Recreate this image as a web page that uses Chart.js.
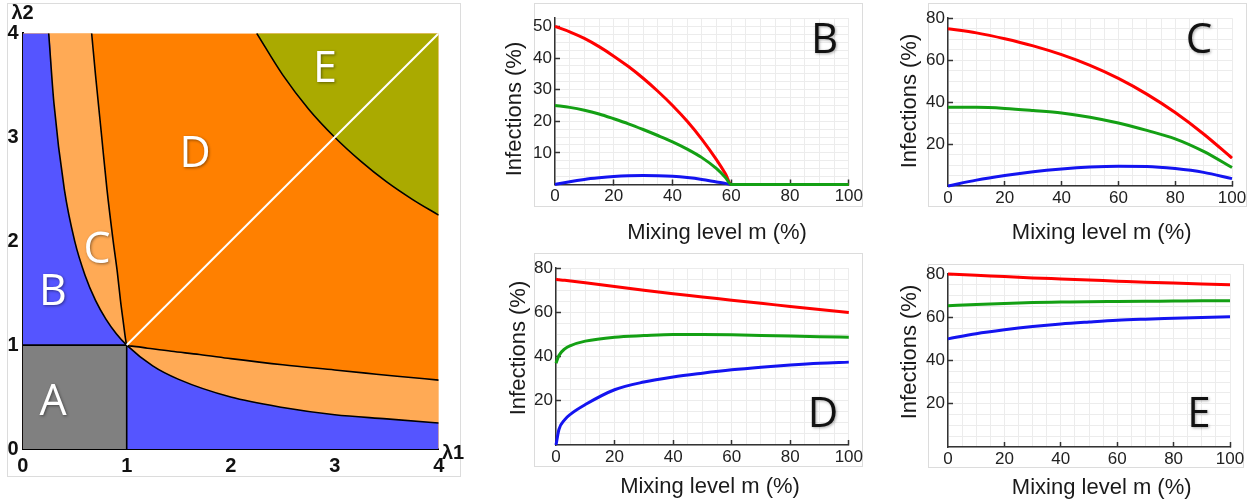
<!DOCTYPE html>
<html>
<head>
<meta charset="utf-8">
<script src="https://cdn.jsdelivr.net/npm/chart.js@4.4.0/dist/chart.umd.min.js"></script>
<style>
  body { margin: 0; background: #fff; width: 1256px; height: 504px; position: relative; overflow: hidden; }
  canvas { position: absolute; }
  .caixa { position: absolute; border: 1px solid #dcdcdc; box-sizing: border-box; }
</style>
</head>
<body>
<div class="caixa" style="left:7px;top:3px;width:454px;height:474px"></div>
<div class="caixa" style="left:534px;top:3px;width:329px;height:204px"></div>
<div class="caixa" style="left:928px;top:3px;width:319px;height:204px"></div>
<div class="caixa" style="left:534px;top:253px;width:329px;height:214px"></div>
<div class="caixa" style="left:928px;top:264px;width:316px;height:204px"></div>

<canvas id="fases" width="470" height="477" style="left:0;top:0"></canvas>
<canvas id="painelB" width="380" height="250" style="left:490px;top:0"></canvas>
<canvas id="painelC" width="376" height="250" style="left:880px;top:0"></canvas>
<canvas id="painelD" width="380" height="254" style="left:490px;top:250px"></canvas>
<canvas id="painelE" width="376" height="254" style="left:880px;top:250px"></canvas>

<script>
// ---- diagrama de fases (lambda1 x lambda2) ----
const eixoFases = [0, 1, 2, 3, 4];
const hipX = [0.25, 0.3, 0.4, 0.5, 0.6, 0.7, 0.8, 0.9, 1, 1.25, 1.5, 2, 2.5, 3, 3.5, 4];
const hipY = [4, 3.33, 2.5, 2, 1.67, 1.43, 1.25, 1.11, 1, 0.8, 0.67, 0.5, 0.4, 0.33, 0.29, 0.25];
const cdX = [0.663, 0.7, 0.73, 0.76, 0.81, 0.87, 0.91, 0.94, 0.97, 0.99, 1, 1.05, 1.2, 1.43, 1.7, 2, 2.5, 3, 3.3, 3.6, 4];
const cdY = [4, 3.6, 3.3, 3.0, 2.5, 2.0, 1.7, 1.43, 1.2, 1.05, 1, 0.99, 0.97, 0.94, 0.91, 0.87, 0.81, 0.76, 0.73, 0.70, 0.663];
const eX = [2.25, 2.5, 2.75, 3, 3.25, 3.5, 3.75, 4];
const eY = [4, 3.6, 3.27, 3, 2.77, 2.57, 2.4, 2.25];
const quadX = [0, 1, 1];
const quadY = [1, 1, 0];
const diagX = [1, 4];
const diagY = [1, 4];
const regioes = ['A', 'B', 'C', 'D', 'E'];

// ---- curvas de infecção (% infectados x nível de mistura m) ----
const ticksMix = [0, 20, 40, 60, 80, 100];

const mixB = [0, 5, 10, 15, 20, 25, 30, 35, 40, 45, 50, 55, 58, 60, 70, 80, 90, 100];
const bRed = [50, 48.3, 46.2, 43.6, 40.6, 37.3, 33.6, 29.5, 25, 20, 14.3, 7.8, 3.4, 0, 0, 0, 0, 0];
const bGreen = [25, 24.4, 23.5, 22.3, 20.8, 19.2, 17.4, 15.5, 13.5, 11.2, 8.5, 5, 2.2, 0, 0, 0, 0, 0];
const bBlue = [0, 0.9, 1.6, 2.1, 2.5, 2.75, 2.85, 2.8, 2.6, 2.2, 1.6, 0.8, 0.35, 0, 0, 0, 0, 0];
const ticksB = [10, 20, 30, 40, 50];

const mixC = [0, 10, 20, 30, 40, 50, 60, 70, 80, 90, 100];
const cRed = [75, 73, 70.2, 66.8, 62.6, 57.5, 51.3, 43.8, 35, 24.8, 13.3];
const cGreen = [37.5, 37.5, 37, 36, 34.8, 32.8, 30, 26.5, 22.5, 16.5, 8.8];
const cBlue = [0, 2.8, 5, 6.8, 8.1, 9, 9.4, 9.3, 8.3, 6.5, 3.5];

const mixD = [0, 1, 3, 5, 10, 20, 30, 40, 50, 60, 70, 80, 90, 100];
const dRed = [75, 74.8, 74.5, 74.2, 73.4, 71.7, 70, 68.4, 67, 65.5, 64.1, 62.7, 61.3, 60];
const dGreen = [37, 40.5, 43.5, 45, 47, 48.8, 49.5, 50, 50, 49.9, 49.6, 49.3, 49, 48.8];
const dBlue = [0, 7, 11.5, 14, 18.3, 25, 28.5, 30.8, 32.5, 34, 35.2, 36.2, 37, 37.5];

const mixE = [0, 10, 20, 30, 40, 50, 60, 70, 80, 90, 100];
const eRed = [80, 79.4, 78.8, 78.2, 77.7, 77.2, 76.7, 76.2, 75.8, 75.4, 75];
const eGreen = [65.3, 65.9, 66.4, 66.8, 67.0, 67.2, 67.3, 67.4, 67.5, 67.6, 67.6];
const eBlue = [50, 52.4, 54.2, 55.7, 56.9, 57.8, 58.6, 59.1, 59.5, 59.9, 60.2];
const ticks80 = [20, 40, 60, 80];

const FONTE = "'Liberation Sans', Arial, sans-serif";

function pontos(xs, ys) {
    return xs.map((x, i) => ({ x: x, y: ys[i] }));
}

// escreve textos soltos (letras, títulos dos eixos)
const textos = {
    id: 'textos',
    afterDraw(chart, args, opts) {
        const ctx = chart.ctx;
        (opts.items || []).forEach(t => {
            ctx.save();
            ctx.font = t.font;
            ctx.fillStyle = t.color || '#1a1a1a';
            ctx.textAlign = 'center';
            ctx.textBaseline = t.base || 'middle';
            if (t.sombra) {
                ctx.shadowColor = t.sombra;
                ctx.shadowBlur = 3;
                ctx.shadowOffsetX = 1;
                ctx.shadowOffsetY = 1;
            }
            ctx.translate(t.x, t.y);
            if (t.rot) ctx.rotate(t.rot);
            ctx.fillText(t.text, 0, 0);
            ctx.restore();
        });
    }
};

// === DIAGRAMA DE FASES === //
function area(dados, cor, alvo, ordem) {
    return {
        data: dados, showLine: true, pointRadius: 0, borderWidth: 0,
        borderColor: 'transparent', backgroundColor: cor, fill: alvo, order: ordem,
        cubicInterpolationMode: 'monotone'
    };
}
function traco(dados, cor, largura, ordem) {
    return {
        data: dados, showLine: true, pointRadius: 0, borderWidth: largura,
        borderColor: cor, fill: false, order: ordem, cubicInterpolationMode: 'monotone'
    };
}

const posLetras = [[53, 415], [53, 305], [97, 263], [195, 167], [325, 82]];

new Chart(document.getElementById('fases'), {
    type: 'scatter',
    data: {
        datasets: [
            area(pontos([0, 4], [4, 4]), '#ff8000', 'start', 20),
            area([{ x: 0, y: 4 }].concat(pontos(cdX, cdY)), '#ffaa55', 'start', 19),
            area([{ x: 0, y: 4 }].concat(pontos(hipX, hipY)), '#5555ff', 'start', 18),
            area(pontos([0, 1], [1, 1]), '#808080', 'start', 17),
            area(pontos(eX, eY), '#aaaa00', 'end', 16),
            traco(pontos(hipX, hipY), '#000', 1.6, 5),
            traco(pontos(cdX, cdY), '#000', 1.6, 5),
            traco(pontos(eX, eY), '#000', 1.6, 5),
            traco(pontos(quadX, quadY), '#000', 1.6, 5),
            traco(pontos(diagX, diagY), '#fff', 2, 2)
        ]
    },
    options: {
        responsive: false,
        animation: false,
        layout: { padding: { left: 0, top: 33.3, right: 31.3, bottom: 0 } },
        plugins: {
            legend: { display: false },
            tooltip: { enabled: false },
            textos: {
                items: regioes.map((l, i) => ({
                    text: l, x: posLetras[i][0], y: posLetras[i][1], base: 'alphabetic',
                    font: "43px 'Open Sans', sans-serif", color: '#fff', sombra: 'rgba(0,0,0,0.45)'
                })).concat([
                    { text: 'λ2', x: 22.5, y: 13, font: 'bold 20px ' + FONTE, color: '#111' },
                    { text: 'λ1', x: 453, y: 453, font: 'bold 20px ' + FONTE, color: '#111' }
                ])
            }
        },
        scales: {
            x: {
                type: 'linear', min: 0, max: 4,
                afterFit: s => { s.height = 28; },
                border: { color: '#000', width: 2 },
                grid: { color: 'transparent', drawTicks: false },
                ticks: { stepSize: 1, padding: 5, color: '#111', font: { family: FONTE, size: 20, weight: 'bold' },
                         callback: v => eixoFases.includes(v) ? v : '' }
            },
            y: {
                type: 'linear', min: 0, max: 4,
                afterFit: s => { s.width = 22.7; },
                border: { color: '#000', width: 2 },
                grid: { color: 'transparent', drawTicks: false },
                ticks: { stepSize: 1, padding: 4, color: '#111', font: { family: FONTE, size: 20, weight: 'bold' },
                         callback: v => eixoFases.includes(v) ? v : '' }
            }
        }
    },
    plugins: [textos]
});

// === PAINÉIS B..E === //
function temValor(lista, v) {
    return lista.some(t => Math.abs(t - v) < 1e-6);
}
function serie(mix, valores, cor, ordem) {
    return {
        data: pontos(mix, valores), showLine: true, pointRadius: 0, borderWidth: 3,
        borderColor: cor, fill: false, order: ordem, clip: false,
        cubicInterpolationMode: 'monotone'
    };
}

function painel(id, p) {
    new Chart(document.getElementById(id), {
        type: 'scatter',
        data: {
            datasets: [
                serie(p.mix, p.verde, '#14a014', 1),
                serie(p.mix, p.vermelho, '#ff0000', 2),
                serie(p.mix, p.azul, '#1414f0', 3)
            ]
        },
        options: {
            responsive: false,
            animation: false,
            layout: { padding: { left: 0, top: p.topo, right: p.direita, bottom: 0 } },
            plugins: {
                legend: { display: false },
                tooltip: { enabled: false },
                textos: {
                    items: [
                        { text: p.letra, x: p.letraX, y: p.letraY, base: 'alphabetic',
                          font: "42px 'Open Sans', sans-serif", color: '#111', sombra: 'rgba(0,0,0,0.35)' },
                        { text: 'Infections (%)', x: p.tituloY[0], y: p.tituloY[1], rot: -Math.PI / 2,
                          font: '22px ' + FONTE },
                        { text: 'Mixing level m (%)', x: p.tituloX[0], y: p.tituloX[1], font: '22px ' + FONTE }
                    ]
                }
            },
            scales: {
                x: {
                    type: 'linear', min: 0, max: 100,
                    afterFit: s => { s.height = p.alturaX; },
                    border: { color: '#333', width: 1.5 },
                    grid: {
                        color: '#ececec', tickLength: -5, tickWidth: 1.5,
                        tickColor: c => (c.tick && c.tick.value > 0 && temValor(ticksMix, c.tick.value)) ? '#333' : 'transparent'
                    },
                    ticks: { stepSize: 5, autoSkip: false, maxRotation: 0, padding: 7, color: '#222',
                             font: { family: FONTE, size: 17 },
                             callback: v => temValor(ticksMix, v) ? v : '' }
                },
                y: {
                    type: 'linear', min: 0, max: p.yMax,
                    afterFit: s => { s.width = p.larguraY; },
                    border: { color: '#333', width: 1.5 },
                    grid: {
                        color: '#ececec', tickLength: -5, tickWidth: 1.5,
                        tickColor: c => (c.tick && temValor(p.yTicks, c.tick.value)) ? '#333' : 'transparent'
                    },
                    ticks: { stepSize: p.yPasso, autoSkip: false, padding: 8, color: '#222',
                             font: { family: FONTE, size: 17 },
                             callback: v => temValor(p.yTicks, v) ? v : '' }
                }
            }
        },
        plugins: [textos]
    });
}

painel('painelB', {
    mix: mixB, vermelho: bRed, verde: bGreen, azul: bBlue,
    yMax: 52.6, yPasso: 2.5, yTicks: ticksB,
    topo: 3.3, direita: 20, larguraY: 65, alturaX: 65.5,
    letra: 'B', letraX: 334.5, letraY: 53, tituloY: [25, 109], tituloX: [227, 233]
});
painel('painelC', {
    mix: mixC, vermelho: cRed, verde: cGreen, azul: cBlue,
    yMax: 80, yPasso: 5, yTicks: ticks80,
    topo: 10.7, direita: 24, larguraY: 68, alturaX: 64,
    letra: 'C', letraX: 319, letraY: 53, tituloY: [30, 101], tituloX: [221.7, 233]
});
painel('painelD', {
    mix: mixD, vermelho: dRed, verde: dGreen, azul: dBlue,
    yMax: 80, yPasso: 5, yTicks: ticks80,
    topo: 12, direita: 19, larguraY: 66, alturaX: 59,
    letra: 'D', letraX: 333, letraY: 177, tituloY: [29, 98], tituloX: [220, 237]
});
painel('painelE', {
    mix: mixE, vermelho: eRed, verde: eGreen, azul: eBlue,
    yMax: 80, yPasso: 5, yTicks: ticks80,
    topo: 24, direita: 26, larguraY: 68, alturaX: 57,
    letra: 'E', letraX: 319, letraY: 177, tituloY: [30, 102], tituloX: [221.7, 238]
});
</script>
</body>
</html>
